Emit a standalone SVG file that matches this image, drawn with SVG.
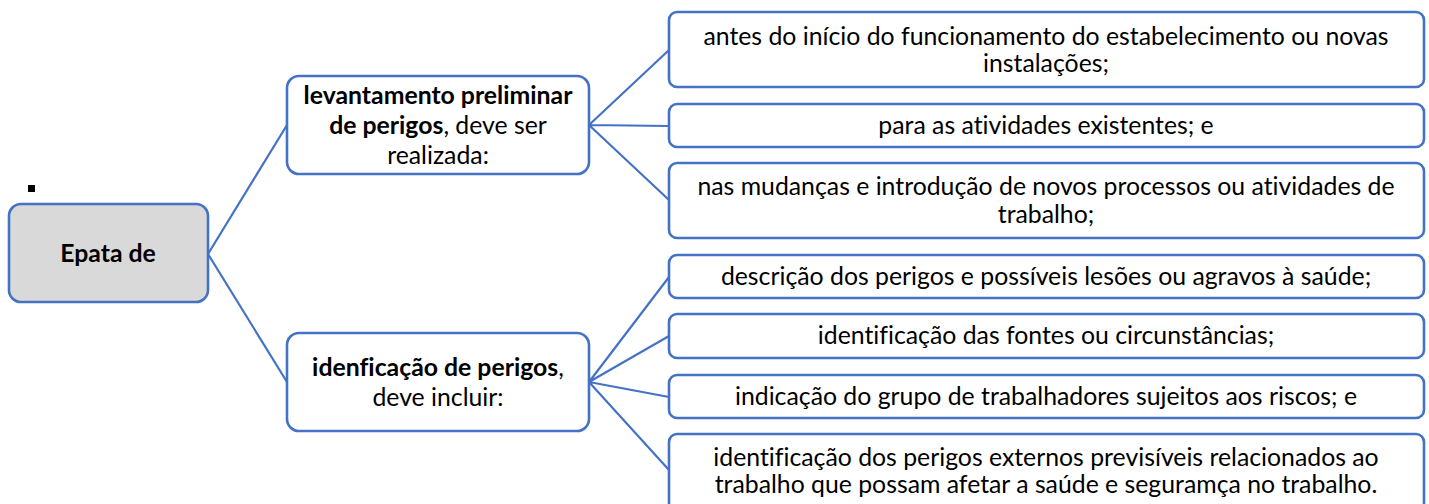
<svg xmlns="http://www.w3.org/2000/svg" width="1429" height="504" viewBox="0 0 1429 504">
<style>
.box{fill:#ffffff;stroke:#4472c4;stroke-width:2.6}
.root{fill:#d9d9d9;stroke:#4472c4;stroke-width:2.6}
.t{font-family:Lato,"Liberation Sans",sans-serif;font-size:24.8px;fill:#000;text-anchor:middle;font-variant-ligatures:none}
.b{font-weight:bold}
.c{stroke:#4472c4;stroke-width:2.2;fill:none}
</style>
<rect x="28" y="185" width="7" height="7" fill="#000"/>
<g id="connectors">
<path class="c" d="M208,254 L287,125 M208,254 L287,382"/>
<path class="c" d="M589,125 L669,50 M589,125 L669,126 M589,125 L669,200"/>
<path class="c" d="M589,382 L669,277 M589,382 L669,336 M589,382 L669,397 M589,382 L669,470"/>
</g>
<g id="root">
<rect class="root" x="9" y="204" width="199" height="98" rx="12"/>
<text class="t b" x="108" y="262">Epata de</text>
</g>
<g id="n1">
<rect class="box" x="287" y="76" width="302" height="98" rx="12"/>
<text class="t" x="438" y="104"><tspan class="b">levantamento preliminar</tspan></text>
<text class="t" x="438" y="134"><tspan class="b">de perigos</tspan>, deve ser</text>
<text class="t" x="438" y="164">realizada:</text>
</g>
<g id="n2">
<rect class="box" x="287" y="333" width="302" height="98" rx="12"/>
<text class="t" x="438" y="376"><tspan class="b">idenficação de perigos</tspan>,</text>
<text class="t" x="438" y="406">deve incluir:</text>
</g>
<g id="a1">
<rect class="box" x="669" y="12" width="755" height="75" rx="8"/>
<text class="t" x="1046" y="45">antes do início do funcionamento do estabelecimento ou novas</text>
<text class="t" x="1046" y="72">instalações;</text>
</g>
<g id="a2">
<rect class="box" x="669" y="104" width="755" height="43" rx="8"/>
<text class="t" x="1046" y="134">para as atividades existentes; e</text>
</g>
<g id="a3">
<rect class="box" x="669" y="163" width="755" height="75" rx="8"/>
<text class="t" x="1046" y="195">nas mudanças e introdução de novos processos ou atividades de</text>
<text class="t" x="1046" y="223">trabalho;</text>
</g>
<g id="b1">
<rect class="box" x="669" y="255" width="755" height="43" rx="8"/>
<text class="t" x="1046" y="285">descrição dos perigos e possíveis lesões ou agravos à saúde;</text>
</g>
<g id="b2">
<rect class="box" x="669" y="314" width="755" height="44" rx="8"/>
<text class="t" x="1046" y="344">identificação das fontes ou circunstâncias;</text>
</g>
<g id="b3">
<rect class="box" x="669" y="375" width="755" height="43" rx="8"/>
<text class="t" x="1046" y="405">indicação do grupo de trabalhadores sujeitos aos riscos; e</text>
</g>
<g id="b4">
<rect class="box" x="669" y="434" width="755" height="80" rx="8"/>
<text class="t" x="1046" y="466">identificação dos perigos externos previsíveis relacionados ao</text>
<text class="t" x="1046" y="493">trabalho que possam afetar a saúde e seguramça no trabalho.</text>
</g>
</svg>
